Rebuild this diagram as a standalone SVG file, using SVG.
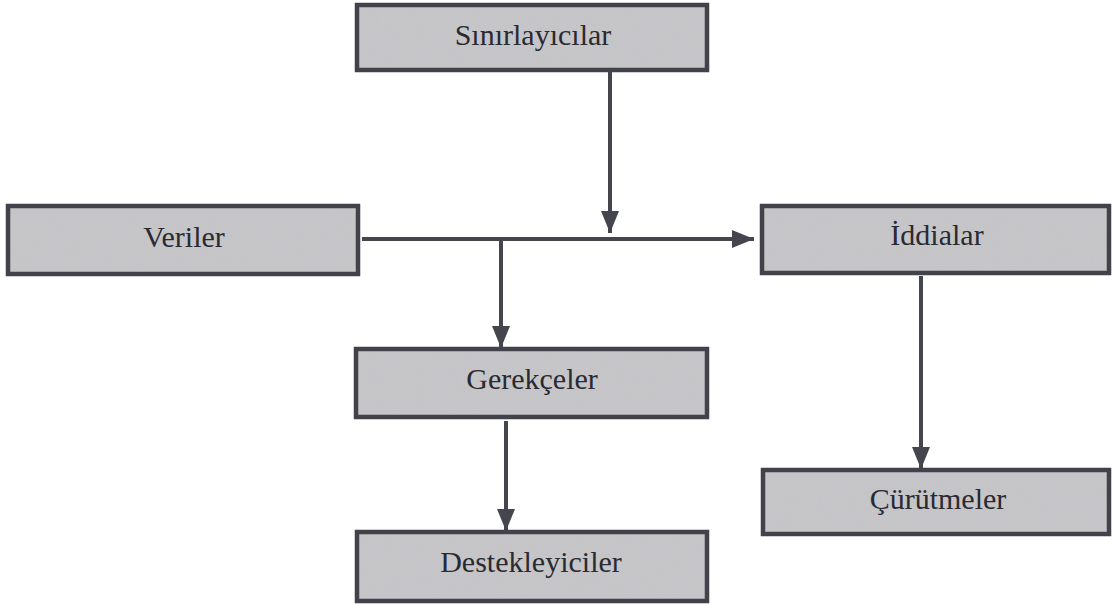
<svg xmlns="http://www.w3.org/2000/svg" width="1113" height="604" viewBox="0 0 1113 604">
<defs>
<marker id="ah" viewBox="0 0 22 18" refX="22" refY="9" markerWidth="22" markerHeight="18" markerUnits="userSpaceOnUse" orient="auto">
<path d="M0,0 L22,9 L0,18 Z" fill="#45454d"/>
</marker>
<filter id="grain" x="0" y="0" width="100%" height="100%">
<feTurbulence type="fractalNoise" baseFrequency="0.9" numOctaves="2" seed="3" result="n"/>
<feColorMatrix in="n" type="matrix" values="0 0 0 0 0.5  0 0 0 0 0.5  0 0 0 0 0.52  0 0 0 0.35 0" result="g"/>
<feComposite in="g" in2="SourceGraphic" operator="in" result="gi"/>
<feMerge><feMergeNode in="SourceGraphic"/><feMergeNode in="gi"/></feMerge>
</filter>
</defs>
<style>
.fill{fill:#c8c8cb;stroke:none}
.box{fill:none;stroke:#42424a;stroke-width:4.5}
.lbl{font-family:"Liberation Serif","Times New Roman",serif;font-size:30px;fill:#2a2a32;text-anchor:middle}
.con{stroke:#45454d;stroke-width:4;fill:none;marker-end:url(#ah)}
</style>
<rect width="1113" height="604" fill="#ffffff"/>
<g id="node-sinirlayicilar">
<rect class="fill" x="357" y="5" width="350" height="65" filter="url(#grain)"/>
<rect class="box" x="357" y="5" width="350" height="65"/>
<text class="lbl" x="533" y="45">Sınırlayıcılar</text>
</g>
<g id="node-veriler">
<rect class="fill" x="8" y="206" width="350" height="68" filter="url(#grain)"/>
<rect class="box" x="8" y="206" width="350" height="68"/>
<text class="lbl" x="184" y="247">Veriler</text>
</g>
<g id="node-iddialar">
<rect class="fill" x="762" y="206" width="347" height="67" filter="url(#grain)"/>
<rect class="box" x="762" y="206" width="347" height="67"/>
<text class="lbl" x="937" y="245">İddialar</text>
</g>
<g id="node-gerekceler">
<rect class="fill" x="356" y="349" width="351" height="68" filter="url(#grain)"/>
<rect class="box" x="356" y="349" width="351" height="68"/>
<text class="lbl" x="532" y="389">Gerekçeler</text>
</g>
<g id="node-curutmeler">
<rect class="fill" x="763" y="470" width="346" height="64" filter="url(#grain)"/>
<rect class="box" x="763" y="470" width="346" height="64"/>
<text class="lbl" x="938" y="509">Çürütmeler</text>
</g>
<g id="node-destekleyiciler">
<rect class="fill" x="357" y="532" width="350" height="69" filter="url(#grain)"/>
<rect class="box" x="357" y="532" width="350" height="69"/>
<text class="lbl" x="531" y="572">Destekleyiciler</text>
</g>
<g id="connectors">
<line class="con" x1="610" y1="71" x2="610" y2="233"/>
<line class="con" x1="362" y1="239" x2="754" y2="239"/>
<line class="con" x1="501" y1="239" x2="501" y2="348"/>
<line class="con" x1="506" y1="421" x2="506" y2="531"/>
<line class="con" x1="921" y1="276" x2="921" y2="469"/>
</g>
</svg>
